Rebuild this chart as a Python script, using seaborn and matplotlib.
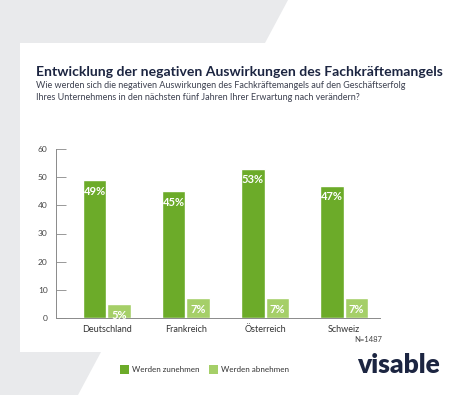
import pandas as pd
import seaborn as sns
import matplotlib.pyplot as plt
from matplotlib.patches import Polygon, Rectangle

# Data
countries = ['Deutschland', 'Frankreich', 'Österreich', 'Schweiz']
series = ['Werden zunehmen', 'Werden abnehmen']
zunehmen = [49, 45, 53, 47]
abnehmen = [5, 7, 7, 7]
y_ticks = [0, 10, 20, 30, 40, 50, 60]

title = 'Entwicklung der negativen Auswirkungen des Fachkräftemangels'
subtitle = ('Wie werden sich die negativen Auswirkungen des Fachkräftemangels auf den Geschäftserfolg\n'
            'Ihres Unternehmens in den nächsten fünf Jahren Ihrer Erwartung nach verändern?')
note = 'N=1487'

dark_green = '#6cab29'
light_green = '#a5cf68'
navy = '#1c2541'

df = pd.DataFrame({
    'Land': countries * 2,
    'Serie': [series[0]] * len(countries) + [series[1]] * len(countries),
    'Wert': zunehmen + abnehmen,
})

sns.set_theme(style='white')
plt.rcParams['font.family'] = ['Lato', 'DejaVu Sans']

W, H = 450, 395
fig = plt.figure(figsize=(W / 100, H / 100), dpi=100)
fig.patch.set_facecolor('white')


def px(x, y):
    return (x / W, 1 - y / H)


# grey background shape behind the white card
bg = Polygon([px(0, 0), px(288, 0), px(265, 43), px(20, 43), px(20, 352),
              px(101, 352), px(78, 395), px(0, 395)],
             closed=True, transform=fig.transFigure, facecolor='#e9eaec',
             edgecolor='none', zorder=0)
fig.patches.append(bg)

t = fig.text(36 / W, 1 - 72 / H, title, fontsize=11, fontweight='bold',
             color=navy, va='center', ha='left')
# fit the title to the width it has in the reference (~406 px)
renderer = fig.canvas.get_renderer()
w = t.get_window_extent(renderer).width
t.set_fontsize(11 * 406 / w)

s = fig.text(36 / W, 1 - 81 / H, subtitle, fontsize=6.5, color='#3d4150',
             va='top', ha='left', linespacing=1.45)

ax = fig.add_axes([56 / W, 1 - 318 / H, (380 - 56) / W, (318 - 149) / H])
ax.set_facecolor('none')
sns.barplot(data=df, x='Land', y='Wert', hue='Serie', hue_order=series,
            palette=[dark_green, light_green], width=0.63, gap=0.04,
            saturation=1, legend=False, ax=ax)

for cont, vals in zip(ax.containers, [zunehmen, abnehmen]):
    ax.bar_label(cont, labels=[f'{v}%' for v in vals], padding=-12,
                 color='white', fontsize=8, fontweight='bold')

ax.set_ylim(0, 60)
ax.set_xlim(-0.645, 3.455)
ax.set_yticks(y_ticks)
ax.set_xlabel('')
ax.set_ylabel('')
ax.tick_params(axis='y', direction='in', length=7, width=0.6, color='#888888',
               labelsize=6, labelcolor='#444444', pad=6, left=True)
ax.tick_params(axis='x', length=0, labelsize=6.5, labelcolor='#333333', pad=5)
for side in ['top', 'right']:
    ax.spines[side].set_visible(False)
for side in ['left', 'bottom']:
    ax.spines[side].set_color('#8a8a8a')
    ax.spines[side].set_linewidth(0.7)

fig.text(382 / W, 1 - 339 / H, note, fontsize=5.5, color='#444444',
         ha='right', va='center')

# legend
for (lx, col, lab) in [(120, dark_green, series[0]), (209, light_green, series[1])]:
    fig.patches.append(Rectangle(px(lx, 374), 9 / W, 9 / H, transform=fig.transFigure,
                                 facecolor=col, edgecolor='none'))
    fig.text((lx + 12) / W, 1 - 370 / H, lab, fontsize=5.8, color='#333333',
             ha='left', va='center')

# logo
fig.text(440 / W, 1 - 373 / H, 'visable', fontsize=19, fontweight='heavy',
         color=navy, ha='right', va='baseline')

fig.savefig('out.png', dpi=100)
